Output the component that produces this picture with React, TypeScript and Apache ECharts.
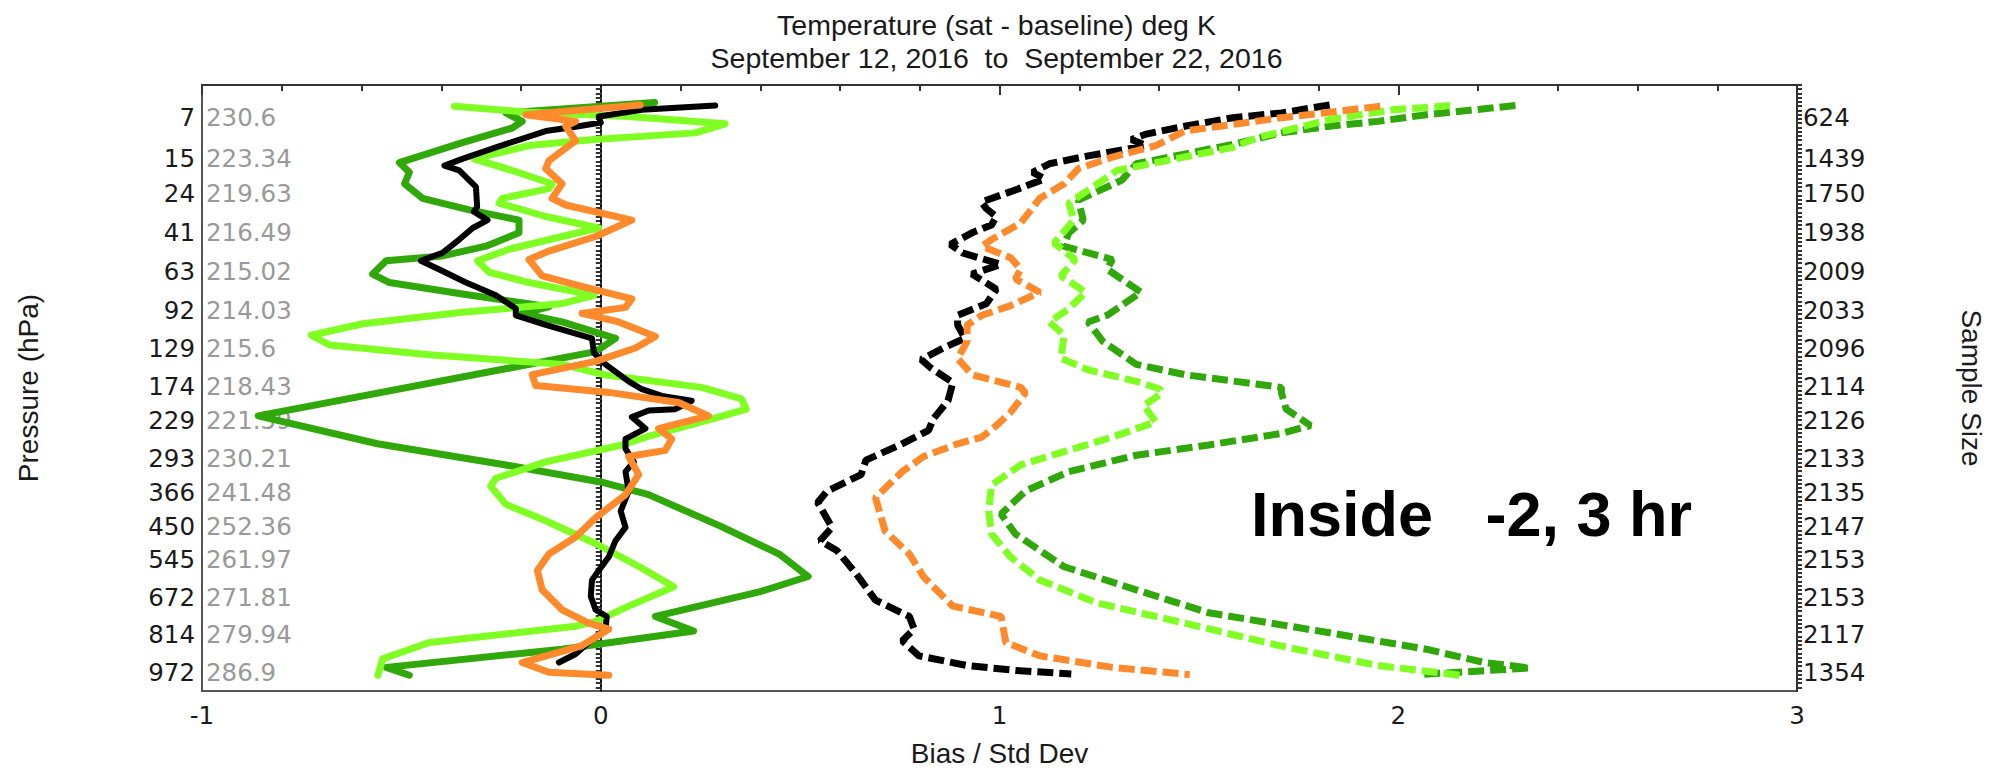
import React, { useEffect, useRef } from "react";
import * as echarts from "echarts";

// ---- axis labels ----
const pressureLabels = ["7", "15", "24", "41", "63", "92", "129", "174", "229", "293", "366", "450", "545", "672", "814", "972"];
const meanTempLabels = ["230.6", "223.34", "219.63", "216.49", "215.02", "214.03", "215.6", "218.43", "221.59", "230.21", "241.48", "252.36", "261.97", "271.81", "279.94", "286.9"];
const sampleSizeLabels = ["624", "1439", "1750", "1938", "2009", "2033", "2096", "2114", "2126", "2133", "2135", "2147", "2153", "2153", "2117", "1354"];
// position of each labelled level on the vertical (level) scale, 0 = top, 100 = bottom
const levelPositions = [5.4, 12.2, 17.9, 24.3, 30.8, 37.2, 43.4, 49.7, 55.4, 61.6, 67.3, 72.9, 78.3, 84.5, 90.7, 96.9];
const xTicks = [-1, 0, 1, 2, 3];

// ---- series: [value, level position] ----
const biasBlack: [number, number][] = [
  [0.287, 3.4], [0.103, 4.1], [-0.005, 5.2], [0.0, 6.2], [-0.055, 6.8], [-0.138, 7.6], [-0.263, 10.3], [-0.347, 12.2], [-0.392, 13.3], [-0.355, 14.1],
  [-0.313, 16.8], [-0.31, 20.1], [-0.318, 20.9], [-0.284, 22.3], [-0.321, 23.6], [-0.355, 25.5], [-0.397, 27.7], [-0.451, 29.0], [-0.397, 30.7], [-0.338, 32.6],
  [-0.263, 34.7], [-0.213, 36.9], [-0.213, 38.0], [-0.138, 39.6], [-0.022, 41.8], [-0.017, 44.2], [0.012, 46.1], [0.07, 48.9], [0.103, 50.2], [0.153, 51.3],
  [0.228, 52.1], [0.187, 53.5], [0.12, 53.7], [0.078, 54.8], [0.112, 56.7], [0.062, 58.4], [0.062, 60.0], [0.083, 62.2], [0.062, 63.8], [0.07, 67.0],
  [0.05, 70.3], [0.062, 73.0], [0.037, 75.2], [0.02, 77.9], [-0.005, 80.1], [-0.022, 81.7], [-0.025, 84.4], [-0.013, 86.6], [0.015, 87.7], [0.012, 89.8],
  [-0.03, 92.0], [-0.063, 93.9], [-0.105, 95.3],
];
const biasOrange: [number, number][] = [
  [0.099, 3.3], [-0.188, 4.9], [-0.063, 6.0], [-0.088, 6.8], [-0.063, 9.2], [-0.13, 12.5], [-0.138, 13.8], [-0.097, 16.3], [-0.122, 18.7], [-0.088, 19.8],
  [0.078, 22.3], [-0.013, 25.0], [-0.13, 27.4], [-0.18, 28.8], [-0.147, 31.5], [-0.055, 33.1], [0.078, 35.3], [0.062, 36.7], [-0.047, 37.7], [0.045, 39.1],
  [0.137, 41.5], [0.087, 43.4], [-0.013, 45.6], [-0.172, 47.8], [-0.163, 49.6], [0.028, 50.8], [0.195, 52.4], [0.27, 54.6], [0.145, 56.7], [0.178, 58.4],
  [0.162, 60.3], [0.07, 61.3], [0.095, 64.3], [0.062, 67.6], [-0.013, 71.4], [-0.063, 74.6], [-0.13, 77.4], [-0.159, 80.1], [-0.147, 83.3], [-0.097, 86.6],
  [-0.03, 88.8], [0.02, 89.8], [-0.05, 92.6], [-0.197, 95.3], [-0.13, 96.9], [0.02, 97.4],
];
const biasLightGreen: [number, number][] = [
  [-0.367, 3.5], [-0.18, 4.5], [0.07, 5.2], [0.312, 6.4], [0.237, 7.9], [-0.017, 9.0], [-0.18, 10.0], [-0.318, 12.2], [-0.222, 14.1], [-0.122, 16.3],
  [-0.13, 17.1], [-0.247, 18.7], [-0.255, 19.5], [-0.138, 21.7], [-0.005, 23.6], [-0.097, 25.0], [-0.23, 27.1], [-0.309, 29.0], [-0.28, 30.9], [-0.18, 32.6],
  [-0.017, 34.7], [-0.1, 36.1], [-0.347, 37.5], [-0.597, 39.4], [-0.726, 41.3], [-0.68, 42.9], [-0.43, 44.5], [-0.097, 46.1], [0.008, 47.8], [0.253, 49.9],
  [0.353, 51.8], [0.365, 53.5], [0.28, 55.1], [0.128, 57.8], [0.053, 59.4], [-0.138, 62.2], [-0.263, 64.9], [-0.276, 66.2], [-0.238, 69.2], [-0.138, 71.9],
  [-0.012, 75.7], [0.097, 79.5], [0.183, 82.8], [0.07, 86.0], [-0.012, 88.5], [-0.063, 89.3], [-0.43, 92.0], [-0.547, 94.7], [-0.559, 97.4],
];
const biasDarkGreen: [number, number][] = [
  [0.135, 2.9], [-0.238, 4.6], [-0.197, 6.0], [-0.222, 7.1], [-0.347, 9.5], [-0.505, 12.8], [-0.48, 14.4], [-0.492, 16.3], [-0.447, 18.7], [-0.33, 20.6],
  [-0.205, 22.3], [-0.205, 24.4], [-0.288, 26.6], [-0.397, 28.2], [-0.538, 29.0], [-0.572, 31.2], [-0.53, 32.6], [-0.347, 34.5], [-0.13, 36.6], [-0.197, 37.7],
  [-0.097, 39.1], [0.037, 41.8], [-0.013, 44.0], [-0.859, 54.6], [-0.56, 59.2], [-0.23, 62.8], [0.0, 65.5], [0.12, 67.6], [0.3, 72.8], [0.45, 77.5],
  [0.52, 81.1], [0.4, 83.6], [0.137, 87.7], [0.233, 90.1], [-0.097, 93.1], [-0.538, 96.1], [-0.48, 97.4],
];
const stdBlack: [number, number][] = [
  [1.828, 3.3], [1.707, 4.6], [1.585, 5.4], [1.464, 6.8], [1.368, 8.1], [1.331, 9.0], [1.368, 10.0], [1.319, 10.6], [1.222, 11.7], [1.125, 13.0],
  [1.083, 14.4], [1.113, 15.5], [1.028, 17.6], [0.955, 19.3], [0.967, 20.4], [0.992, 21.7], [0.98, 23.1], [0.931, 24.4], [0.877, 26.3], [0.907, 27.7],
  [1.004, 29.6], [0.931, 31.2], [0.992, 33.7], [0.967, 36.1], [0.895, 38.0], [0.895, 39.6], [0.913, 41.8], [0.859, 43.4], [0.804, 45.3], [0.828, 46.7],
  [0.883, 49.1], [0.871, 52.1], [0.834, 55.1], [0.822, 57.0], [0.75, 59.4], [0.665, 61.9], [0.653, 64.3], [0.568, 67.0], [0.544, 68.9], [0.58, 73.0],
  [0.55, 75.2], [0.592, 76.8], [0.64, 80.6], [0.689, 85.0], [0.774, 87.7], [0.786, 89.8], [0.756, 91.7], [0.798, 94.2], [0.919, 95.8], [1.04, 96.6],
  [1.18, 97.2],
];
const stdOrange: [number, number][] = [
  [1.955, 3.5], [1.828, 4.5], [1.707, 5.4], [1.586, 6.5], [1.464, 7.6], [1.392, 10.0], [1.283, 11.9], [1.198, 13.8], [1.162, 16.3], [1.101, 18.7],
  [1.053, 22.8], [0.98, 25.5], [0.956, 26.6], [1.028, 28.5], [1.053, 30.4], [1.04, 32.0], [1.101, 34.2], [1.028, 36.4], [0.956, 38.0], [0.919, 39.6],
  [0.919, 42.3], [0.895, 45.1], [0.931, 47.8], [1.053, 49.9], [1.065, 50.8], [1.028, 54.0], [0.992, 56.2], [0.956, 58.1], [0.895, 59.2], [0.81, 61.3],
  [0.756, 63.8], [0.689, 68.1], [0.713, 73.6], [0.774, 77.4], [0.81, 81.2], [0.883, 86.0], [1.004, 87.7], [1.016, 92.0], [1.101, 94.2], [1.283, 96.1],
  [1.477, 97.3],
];
const stdLightGreen: [number, number][] = [
  [2.13, 3.4], [1.985, 4.1], [1.828, 5.7], [1.646, 8.7], [1.585, 10.3], [1.295, 14.1], [1.174, 19.5], [1.186, 22.3], [1.137, 26.1], [1.19, 28.8],
  [1.154, 31.5], [1.216, 34.2], [1.174, 36.9], [1.125, 39.1], [1.162, 41.3], [1.154, 45.1], [1.222, 47.0], [1.343, 48.9], [1.404, 50.2], [1.404, 51.0],
  [1.362, 52.9], [1.392, 55.6], [1.283, 58.1], [1.162, 60.5], [1.053, 62.7], [0.98, 66.0], [0.973, 70.3], [0.98, 74.1], [1.028, 77.9], [1.101, 81.7],
  [1.246, 85.5], [1.465, 88.8], [1.707, 92.6], [1.949, 95.8], [2.155, 97.4],
];
const stdDarkGreen: [number, number][] = [
  [2.294, 3.4], [2.19, 4.1], [2.07, 4.9], [1.949, 6.0], [1.828, 6.8], [1.707, 7.9], [1.585, 9.8], [1.464, 11.4], [1.343, 13.0], [1.307, 15.7],
  [1.198, 19.0], [1.21, 22.3], [1.174, 24.4], [1.16, 26.6], [1.283, 28.8], [1.27, 30.4], [1.355, 34.2], [1.27, 38.0], [1.222, 39.1], [1.259, 42.3],
  [1.343, 46.1], [1.465, 47.8], [1.707, 49.9], [1.707, 50.8], [1.719, 53.5], [1.78, 56.2], [1.707, 57.5], [1.525, 59.4], [1.343, 61.1], [1.174, 63.8],
  [1.065, 67.0], [1.004, 70.8], [1.04, 74.1], [1.162, 79.5], [1.343, 83.3], [1.525, 87.1], [1.828, 90.4], [2.07, 93.1], [2.216, 95.3], [2.33, 96.2],
  [2.05, 97.3],
];

const BLACK = "#000000";
const ORANGE = "#ff8a2c";
const LIGHT_GREEN = "#80ff22";
const DARK_GREEN = "#30a80a";

const SANS = "'Liberation Sans', Arial, sans-serif";
const TICKFONT = "'DejaVu Sans', sans-serif";

function labelAt(list: string[]) {
  return (value: number) => {
    let best = -1;
    let bd = 1e9;
    levelPositions.forEach((p, i) => {
      const d = Math.abs(p - value);
      if (d < bd) {
        bd = d;
        best = i;
      }
    });
    return best >= 0 && bd < 0.05 ? list[best] : "";
  };
}

const minorLevelTicks: number[] = [];
for (let v = 0; v <= 100.001; v += 0.7) minorLevelTicks.push(Math.round(v * 100) / 100);

export default function App() {
  const ref = useRef<HTMLDivElement>(null);
  useEffect(() => {
    document.body.style.margin = "0";
    if (!ref.current) return;
    const chart = echarts.init(ref.current, undefined, { renderer: "svg" });
    const solid = (name: string, data: [number, number][], color: string, width: number, extra: any = {}) => ({
      name,
      type: "line",
      data,
      showSymbol: false,
      symbol: "none",
      xAxisIndex: 0,
      yAxisIndex: 0,
      lineStyle: { color, width, type: "solid", cap: "round", join: "round" },
      silent: true,
      ...extra,
    });
    const dashed = (name: string, data: [number, number][], color: string) => ({
      name,
      type: "line",
      data,
      showSymbol: false,
      symbol: "none",
      xAxisIndex: 0,
      yAxisIndex: 0,
      lineStyle: { color, width: 7, type: [16, 6] },
      silent: true,
    });
    const yBase = {
      type: "value",
      min: 0,
      max: 100,
      inverse: true,
      splitLine: { show: false },
    };
    const tickStyle = { show: true, inside: false, length: 5, customValues: minorLevelTicks, lineStyle: { color: "#333333", width: 2 } };
    chart.setOption({
      animation: false,
      backgroundColor: "#ffffff",
      title: [
        {
          text: "Temperature (sat - baseline) deg K",
          left: "center",
          top: 5,
          textStyle: { fontFamily: SANS, fontSize: 28.5, fontWeight: "normal", color: "#1a1a1a" },
        },
        {
          text: "September 12, 2016  to  September 22, 2016",
          left: "center",
          top: 38,
          textStyle: { fontFamily: SANS, fontSize: 28.5, fontWeight: "normal", color: "#1a1a1a" },
        },
      ],
      grid: {
        left: 202,
        right: 191,
        top: 85,
        bottom: 73,
        show: true,
        borderColor: "#555555",
        borderWidth: 2,
        backgroundColor: "transparent",
      },
      xAxis: {
        type: "value",
        min: xTicks[0],
        max: xTicks[xTicks.length - 1],
        interval: 1,
        name: "Bias / Std Dev",
        nameLocation: "middle",
        nameGap: 48,
        nameTextStyle: { fontFamily: SANS, fontSize: 28, color: "#1a1a1a" },
        axisLine: { show: true, lineStyle: { color: "#333333", width: 2 } },
        axisTick: { show: true, inside: false, length: 10, lineStyle: { color: "#333333", width: 2 } },
        minorTick: { show: true, splitNumber: 5, length: 6, lineStyle: { color: "#333333", width: 2 } },
        axisLabel: { fontFamily: TICKFONT, fontSize: 24.5, color: "#1a1a1a", margin: 12 },
        splitLine: { show: false },
        minorSplitLine: { show: false },
      },
      yAxis: [
        {
          ...yBase,
          position: "left",
          name: "Pressure (hPa)",
          nameLocation: "middle",
          nameGap: 160,
          nameTextStyle: { fontFamily: SANS, fontSize: 28, color: "#1a1a1a" },
          axisLine: { show: true, lineStyle: { color: "#333333", width: 2 } },
          axisTick: tickStyle,
          axisLabel: {
            customValues: levelPositions,
            formatter: labelAt(pressureLabels),
            fontFamily: TICKFONT,
            fontSize: 24.5,
            color: "#1a1a1a",
            margin: 7,
          },
        },
        {
          ...yBase,
          position: "left",
          axisLine: { show: false },
          axisTick: { show: false },
          axisLabel: {
            inside: true,
            customValues: levelPositions,
            formatter: labelAt(meanTempLabels),
            fontFamily: TICKFONT,
            fontSize: 24.5,
            color: "#999999",
            margin: 4,
          },
        },
        {
          ...yBase,
          position: "right",
          name: "Sample Size",
          nameLocation: "middle",
          nameRotate: -90,
          nameGap: 160,
          nameTextStyle: { fontFamily: SANS, fontSize: 28, color: "#1a1a1a" },
          axisLine: { show: true, lineStyle: { color: "#333333", width: 2 } },
          axisTick: tickStyle,
          axisLabel: {
            customValues: levelPositions,
            formatter: labelAt(sampleSizeLabels),
            fontFamily: TICKFONT,
            fontSize: 24.5,
            color: "#1a1a1a",
            margin: 6,
          },
        },
      ],
      graphic: [
        {
          type: "text",
          left: 1251,
          top: 482,
          style: {
            text: "Inside   -2, 3 hr",
            fontFamily: SANS,
            fontSize: 63,
            fontWeight: "bold",
            fill: "#000000",
          },
          z: 100,
        },
      ],
      series: [
        solid("Bias dark green", biasDarkGreen, DARK_GREEN, 7, {
          markLine: {
            silent: true,
            symbol: ["none", "none"],
            label: { show: false },
            lineStyle: { type: [2, 3], color: "#000000", width: 1.5 },
            data: [{ xAxis: 0 }],
            z: 1,
          },
        }),
        solid("Bias light green", biasLightGreen, LIGHT_GREEN, 7),
        solid("Bias black", biasBlack, BLACK, 6),
        solid("Bias orange", biasOrange, ORANGE, 7),
        dashed("Std dark green", stdDarkGreen, DARK_GREEN),
        dashed("Std light green", stdLightGreen, LIGHT_GREEN),
        dashed("Std black", stdBlack, BLACK),
        dashed("Std orange", stdOrange, ORANGE),
      ],
    });
    return () => chart.dispose();
  }, []);
  return <div ref={ref} style={{ width: 1993, height: 772 }} />;
}
